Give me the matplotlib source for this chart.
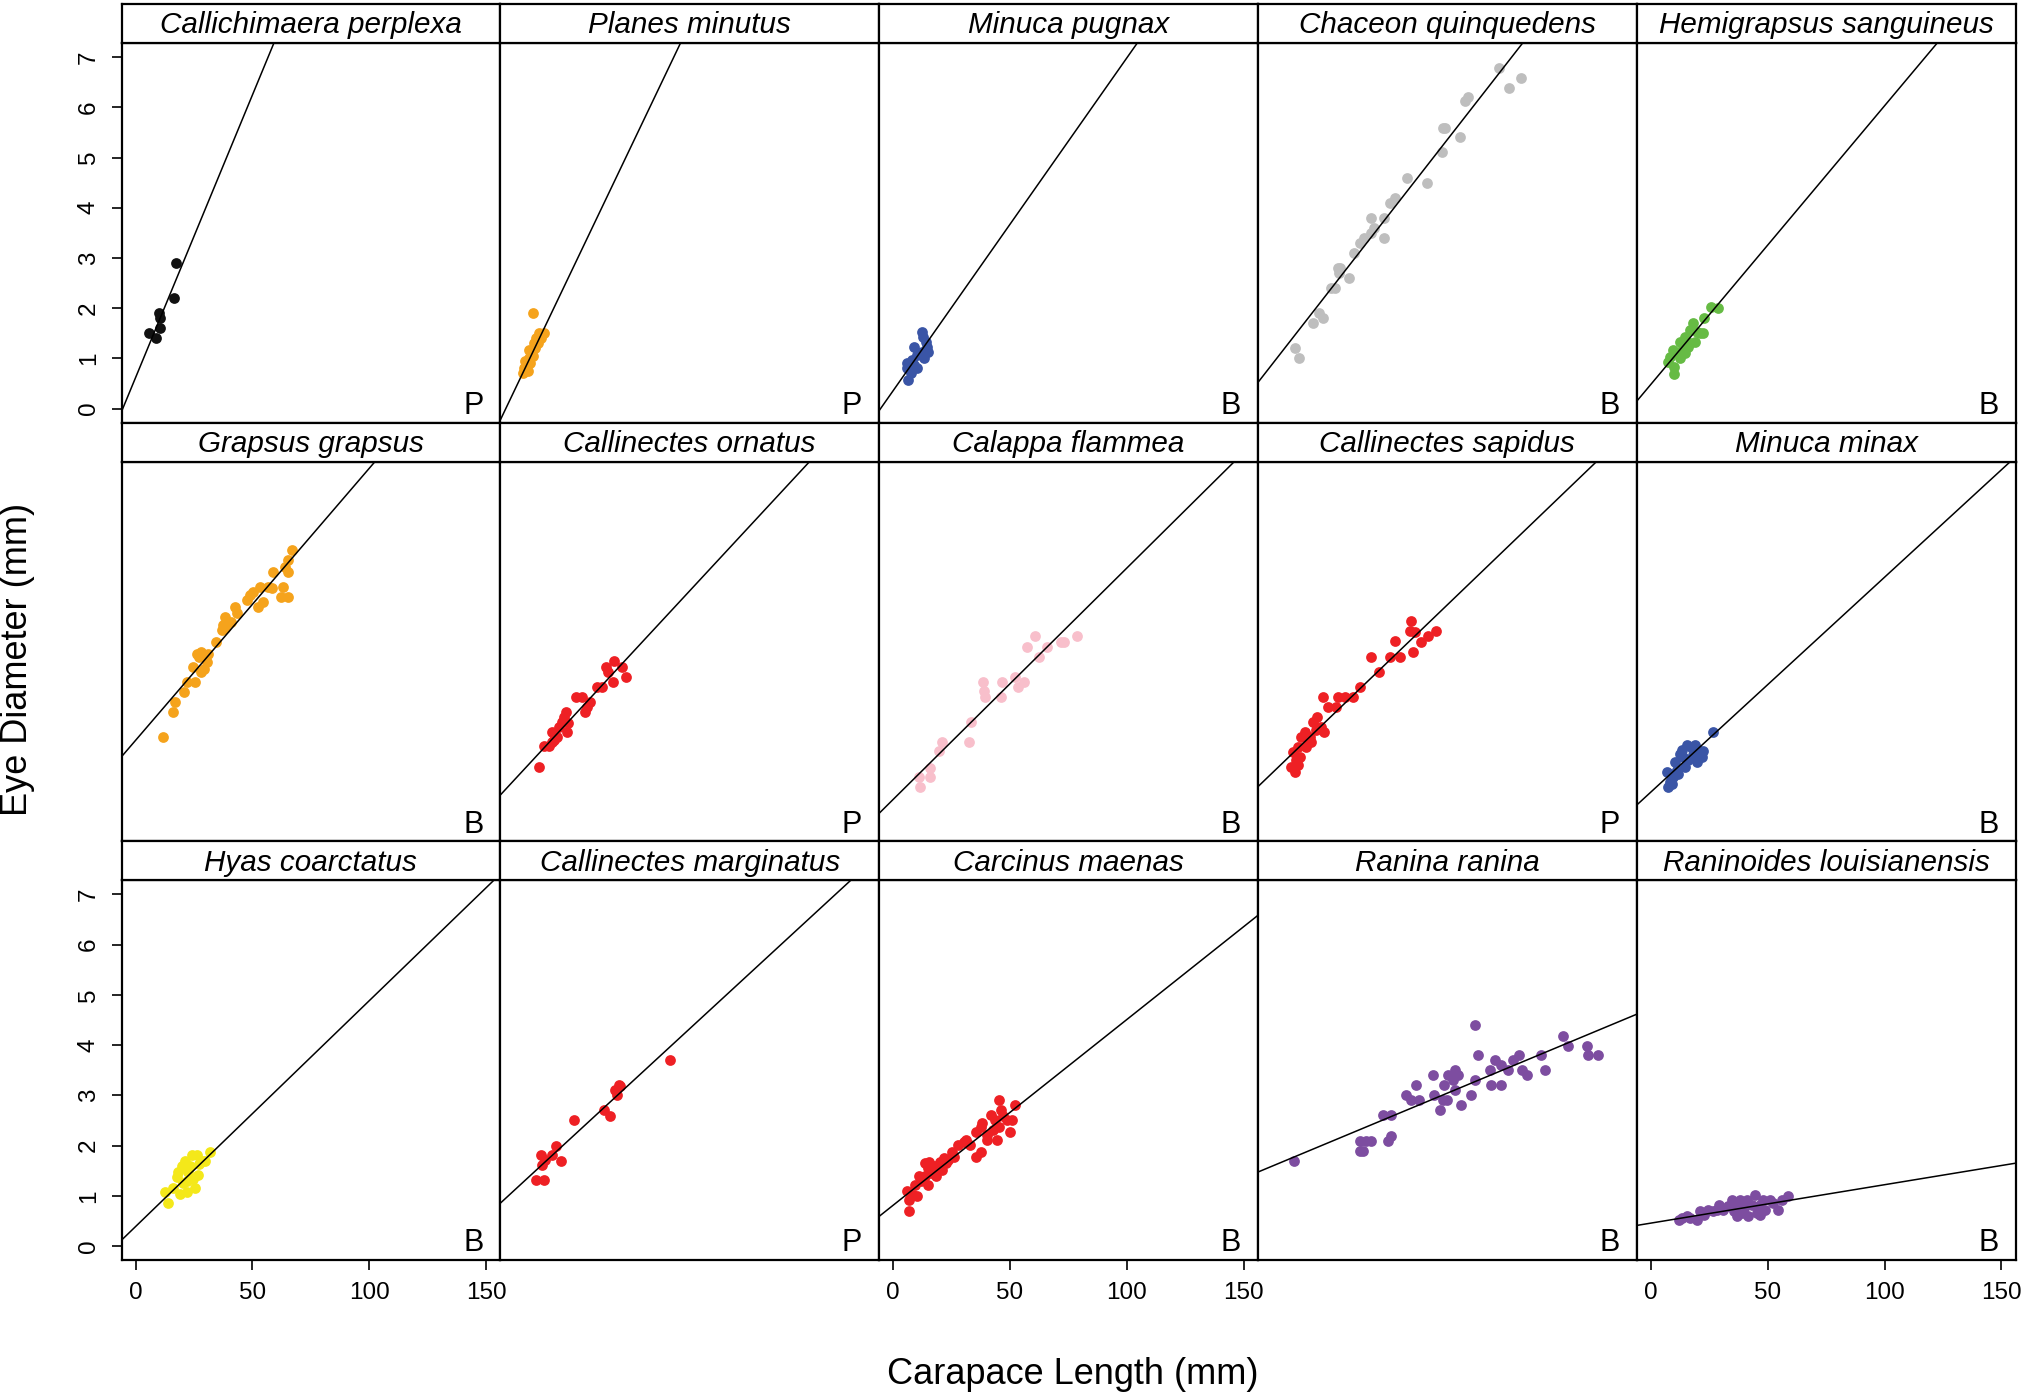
import matplotlib
matplotlib.use("Agg")
import matplotlib.pyplot as plt

plt.rcParams['font.family'] = ['Liberation Sans', 'DejaVu Sans']

# panel order: left to right, top to bottom
species = ["Callichimaera perplexa", "Planes minutus", "Minuca pugnax",
           "Chaceon quinquedens", "Hemigrapsus sanguineus",
           "Grapsus grapsus", "Callinectes ornatus", "Calappa flammea",
           "Callinectes sapidus", "Minuca minax",
           "Hyas coarctatus", "Callinectes marginatus", "Carcinus maenas",
           "Ranina ranina", "Raninoides louisianensis"]
habitat = ["P", "P", "B", "B", "B",
           "B", "P", "B", "P", "B",
           "B", "P", "B", "B", "B"]
colors = ["#111111", "#F5A31C", "#3A55A6", "#BEBEBE", "#66BB44",
          "#F5A31C", "#EE2024", "#F8BFCB", "#EE2024", "#3A55A6",
          "#F4E81A", "#EE2024", "#EE2024", "#7D4DA0", "#7D4DA0"]
intercept = [0.616, 0.357, 0.357, 0.878, 0.48,
             1.731, 0.944, 0.555, 1.077, 0.70,
             0.387, 1.11, 0.812, 1.589, 0.456]
slope = [0.1126, 0.0974, 0.0663, 0.0597, 0.0555,
         0.0542, 0.0502, 0.0461, 0.0447, 0.0428,
         0.0450, 0.0429, 0.0370, 0.0194, 0.00765]

cperplexa_x = [5.9, 8.6, 9.9, 10.3, 10.6, 16.6, 17.2]
cperplexa_y = [1.5, 1.4, 1.9, 1.8, 1.6, 2.2, 2.9]

pminutus_x = [7.8, 12.5, 10.5, 9.4, 11.5, 8.4, 8.8, 7.3, 6.3, 5.3, 4.2, 3.8, 6.7, 8.0, 5.9, 10.0, 4.7, 6.3]
pminutus_y = [1.9, 1.5, 1.5, 1.4, 1.4, 1.3, 1.2, 1.1, 1.0, 0.9, 0.8, 0.7, 0.9, 1.04, 0.74, 1.3, 0.94, 1.17]

mpugnax_x = [12.3, 12.7, 14.0, 9.1, 14.4, 12.3, 10.2, 13.3, 8.1, 6.0, 9.1, 6.0, 10.2, 7.6, 6.4, 11.2, 14.8]
mpugnax_y = [1.53, 1.43, 1.33, 1.23, 1.23, 1.13, 1.07, 1.0, 0.97, 0.9, 0.87, 0.8, 0.8, 0.7, 0.58, 1.1, 1.13]

cquinq_x = [97.2, 106.6, 101.2, 82.6, 83.9, 74.1, 73.0, 80.5, 72.8, 57.8, 66.4, 52.7, 50.5, 42.4, 48.0, 43.7,
            42.4, 39.4, 37.7, 48.0, 35.1, 29.2, 28.1, 28.7, 33.0, 27.0, 25.3, 20.2, 21.7, 17.4, 9.9, 11.6]
cquinq_y = [6.79, 6.59, 6.39, 6.12, 6.21, 5.59, 5.59, 5.40, 5.10, 4.60, 4.50, 4.20, 4.10, 3.80, 3.80, 3.60,
            3.50, 3.40, 3.30, 3.40, 3.10, 2.81, 2.81, 2.71, 2.61, 2.41, 2.41, 1.91, 1.81, 1.71, 1.21, 1.01]

hsang_x = [28.6, 25.8, 22.8, 21.1, 17.9, 17.0, 14.7, 15.8, 12.6, 11.5, 9.4, 8.3, 7.2, 10.0, 10.0, 12.6,
           13.7, 19.0, 20.0, 22.2, 17.0, 14.7]
hsang_y = [2.00, 2.03, 1.80, 1.50, 1.70, 1.56, 1.43, 1.23, 1.33, 1.10, 1.16, 1.03, 0.93, 0.83, 0.69, 1.00,
           1.20, 1.33, 1.53, 1.50, 1.30, 1.10]

ggrapsus_x = [11.8, 16.1, 16.8, 20.8, 21.8, 25.4, 24.7, 27.9, 27.1, 28.2, 30.8, 30.4, 29.4, 34.6, 36.8, 37.5,
              38.2, 41.0, 42.5, 43.2, 48.9, 50.3, 52.5, 54.6, 53.2, 56.7, 58.9, 58.2, 63.1, 62.4, 65.3, 63.9,
              65.3, 65.3, 67.0, 47.5, 26.1, 38.2]
ggrapsus_y = [1.80, 2.30, 2.50, 2.70, 2.90, 2.90, 3.20, 3.10, 3.40, 3.50, 3.46, 3.30, 3.16, 3.70, 3.93, 4.03,
              4.19, 4.09, 4.39, 4.26, 4.63, 4.69, 4.39, 4.49, 4.79, 4.79, 5.09, 4.76, 4.79, 4.59, 4.59, 5.19,
              5.32, 5.09, 5.52, 4.53, 3.46, 3.96]

cornatus_x = [10.4, 12.6, 14.8, 15.9, 15.9, 18.1, 19.1, 20.2, 21.3, 22.0, 22.4, 22.9, 26.3, 29.0, 30.1, 32.2,
              31.1, 35.5, 37.7, 39.4, 39.9, 42.5, 42.1, 46.0, 47.7, 17.0]
cornatus_y = [1.21, 1.61, 1.61, 1.70, 1.90, 1.80, 2.00, 2.10, 2.20, 2.30, 1.90, 2.07, 2.60, 2.60, 2.30, 2.50,
              2.40, 2.80, 2.80, 3.20, 3.10, 3.32, 2.90, 3.20, 3.00, 1.74]

cflammea_x = [11.5, 11.0, 15.8, 15.8, 19.8, 20.9, 32.4, 33.3, 39.4, 39.0, 38.3, 46.0, 46.4, 52.1, 53.6, 55.8,
              62.3, 57.3, 60.8, 66.0, 71.7, 73.2, 78.7]
cflammea_y = [0.80, 1.00, 1.00, 1.19, 1.51, 1.70, 1.70, 2.10, 2.60, 2.72, 2.90, 2.60, 2.90, 3.00, 2.80, 2.90,
              3.40, 3.60, 3.80, 3.60, 3.70, 3.70, 3.80]

csapidus_x = [59.6, 58.9, 61.0, 63.9, 66.7, 70.3, 52.7, 60.3, 50.3, 54.6, 42.5, 46.0, 37.5, 34.6, 31.1, 28.2,
              21.8, 27.5, 23.9, 19.4, 17.5, 21.1, 22.2, 18.9, 14.0, 12.5, 16.1, 16.8, 14.7, 11.1, 9.0, 11.8,
              10.4, 8.3, 9.7, 11.1, 15.4]
csapidus_y = [4.11, 3.90, 3.88, 3.70, 3.80, 3.90, 3.71, 3.50, 3.40, 3.40, 3.40, 3.10, 2.80, 2.60, 2.60, 2.60,
              2.60, 2.40, 2.40, 2.20, 2.10, 2.00, 1.90, 1.94, 1.90, 1.80, 1.80, 1.70, 1.60, 1.60, 1.50, 1.40,
              1.34, 1.21, 1.11, 1.24, 1.74]

mminax_x = [26.8, 7.5, 8.3, 6.8, 9.7, 10.4, 11.1, 12.5, 14.7, 15.4, 17.5, 19.0, 19.7, 21.8, 22.5, 14.0, 13.2,
            9.0, 11.8, 16.1, 18.2, 20.4, 8.3]
mminax_y = [1.90, 0.81, 0.91, 1.11, 1.01, 1.31, 1.14, 1.47, 1.21, 1.64, 1.57, 1.64, 1.31, 1.41, 1.51, 1.41, 1.54,
            0.87, 1.07, 1.34, 1.44, 1.54, 1.07]

hcoarct_x = [12.6, 13.7, 16.2, 17.6, 19.7, 20.4, 21.2, 21.9, 22.6, 24.0, 24.7, 25.4, 26.1, 26.9, 27.3, 28.3,
             29.7, 31.8, 19.0, 23.3, 18.3, 21.9]
hcoarct_y = [1.08, 0.86, 1.15, 1.37, 1.59, 1.26, 1.70, 1.08, 1.48, 1.81, 1.33, 1.15, 1.81, 1.41, 1.63, 1.70,
             1.70, 1.88, 1.04, 1.59, 1.48, 1.30]

cmarg_x = [66.7, 44.6, 43.2, 43.9, 45.3, 38.2, 41.0, 25.7, 18.0, 16.1, 11.4, 20.0, 11.8, 13.2, 9.4, 12.8]
cmarg_y = [3.71, 3.21, 3.11, 3.01, 3.18, 2.71, 2.59, 2.50, 2.00, 1.82, 1.82, 1.70, 1.62, 1.72, 1.31, 1.31]

cmaenas_x = [6.8, 6.8, 6.0, 8.6, 10.3, 9.4, 11.2, 13.8, 14.7, 13.8, 15.5, 14.7, 17.3, 18.2, 19.9, 20.8, 22.5,
             23.4, 25.1, 26.0, 27.8, 30.4, 31.3, 33.0, 35.6, 37.4, 38.2, 37.4, 35.6, 40.0, 40.0, 41.7, 43.5,
             42.6, 44.4, 45.2, 46.1, 45.2, 47.0, 48.7, 50.1, 50.8, 52.2, 19.0, 12.1, 21.7, 16.4]
cmaenas_y = [0.69, 0.92, 1.09, 1.02, 0.99, 1.22, 1.39, 1.39, 1.22, 1.65, 1.68, 1.55, 1.59, 1.39, 1.68, 1.52, 1.65,
             1.72, 1.88, 1.78, 2.02, 2.08, 2.12, 2.02, 2.28, 2.38, 2.45, 1.88, 1.78, 2.22, 2.12, 2.61, 2.51,
             2.31, 2.12, 2.91, 2.71, 2.38, 2.58, 2.51, 2.28, 2.51, 2.81, 1.59, 1.29, 1.75, 1.45]

rranina_x = [9.4, 37.5, 38.9, 37.5, 40.3, 42.5, 49.6, 51.0, 47.5, 51.0, 57.4, 59.6, 63.1, 61.7, 68.8, 69.3,
             71.7, 73.1, 75.0, 73.8, 75.3, 78.1, 79.5, 77.4, 78.1, 80.7, 85.2, 87.0, 86.7, 88.1, 93.1, 93.8,
             97.8, 95.5, 98.1, 100.9, 103.1, 105.5, 106.9, 109.2, 114.9, 116.6, 124.5, 126.6, 134.9, 135.1, 139.4]
rranina_y = [1.70, 2.10, 1.90, 1.90, 2.10, 2.10, 2.10, 2.20, 2.60, 2.60, 3.00, 2.90, 2.90, 3.20, 3.40, 3.00,
             2.70, 2.90, 2.90, 3.20, 3.40, 3.50, 3.40, 3.30, 3.10, 2.80, 3.00, 3.30, 4.41, 3.80, 3.50, 3.20,
             3.20, 3.70, 3.60, 3.50, 3.70, 3.80, 3.50, 3.40, 3.80, 3.50, 4.19, 3.99, 3.99, 3.80, 3.80]

rlouis_x = [11.9, 13.3, 15.4, 16.8, 19.7, 21.1, 22.6, 24.7, 26.8, 29.0, 31.1, 33.2, 34.7, 35.4, 36.8, 36.8,
            38.2, 39.7, 41.1, 41.8, 43.2, 44.6, 45.4, 46.8, 48.2, 48.9, 51.1, 52.5, 54.6, 56.0, 58.9, 46.8,
            38.9, 28.2]
rlouis_y = [0.51, 0.56, 0.60, 0.56, 0.51, 0.69, 0.62, 0.72, 0.69, 0.82, 0.72, 0.79, 0.92, 0.69, 0.82, 0.59,
            0.92, 0.75, 0.92, 0.59, 0.82, 1.02, 0.65, 0.82, 0.92, 0.72, 0.92, 0.86, 0.72, 0.92, 1.00, 0.62,
            0.65, 0.72]

xs = [cperplexa_x, pminutus_x, mpugnax_x, cquinq_x, hsang_x,
      ggrapsus_x, cornatus_x, cflammea_x, csapidus_x, mminax_x,
      hcoarct_x, cmarg_x, cmaenas_x, rranina_x, rlouis_x]
ys = [cperplexa_y, pminutus_y, mpugnax_y, cquinq_y, hsang_y,
      ggrapsus_y, cornatus_y, cflammea_y, csapidus_y, mminax_y,
      hcoarct_y, cmarg_y, cmaenas_y, rranina_y, rlouis_y]

W, H = 2027, 1398
fig = plt.figure(figsize=(W / 100, H / 100), dpi=100)

left0, top0 = 121.5, 4.0
pw, ph, strip_h = 378.8, 418.7, 39.0
frame_lw = 1.6

for i, name in enumerate(species):
    r, c = divmod(i, 5)
    x0 = left0 + c * pw
    y0 = top0 + r * ph
    ax = fig.add_axes([x0 / W, 1 - (y0 + ph) / H, pw / W, (ph - strip_h) / H])
    sx = fig.add_axes([x0 / W, 1 - (y0 + strip_h) / H, pw / W, strip_h / H])

    sx.set_xticks([])
    sx.set_yticks([])
    for s in sx.spines.values():
        s.set_linewidth(frame_lw)
    sx.text(0.5, 0.45, name, ha='center', va='center', style='italic',
            fontsize=21.3, transform=sx.transAxes)

    ax.scatter(xs[i], ys[i], s=60, color=colors[i], linewidths=0, zorder=2)
    ax.axline((0, intercept[i]), slope=slope[i], color='black', lw=1.1, zorder=3)
    ax.set_xlim(-6, 156)
    ax.set_ylim(-0.28, 7.28)
    for s in ax.spines.values():
        s.set_linewidth(frame_lw)
    ax.text(0.955, 0.023, habitat[i], ha='right', va='baseline',
            fontsize=22, transform=ax.transAxes)

    ax.tick_params(length=7.5, width=1.2, labelsize=17.5, pad=8)
    if c == 0 and r != 1:
        ax.set_yticks(range(8))
        for lab in ax.get_yticklabels():
            lab.set_rotation(90)
            lab.set_va('center')
    else:
        ax.set_yticks([])
    if r == 2 and c % 2 == 0:
        ax.set_xticks([0, 50, 100, 150])
    else:
        ax.set_xticks([])

fig.text(18 / W, 1 - 659 / H, "Eye Diameter (mm)", rotation=90,
         ha='center', va='center', fontsize=26)
fig.text(1073 / W, 1 - 1374 / H, "Carapace Length (mm)",
         ha='center', va='center', fontsize=26)

fig.savefig("out.png", dpi=100)
